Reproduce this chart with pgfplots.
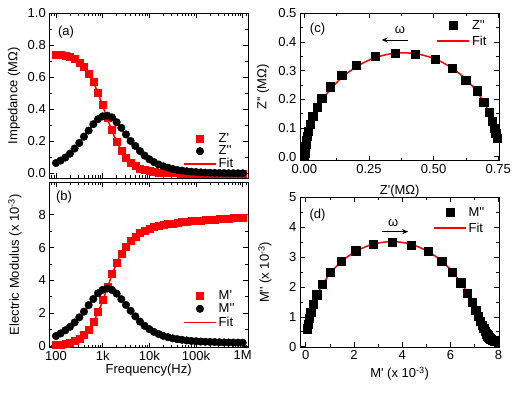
\documentclass[border=0pt]{standalone}
\usepackage{fontspec}
\setmainfont{Liberation Sans}
\usepackage{pgfplots}
\pgfplotsset{compat=1.18}
\usepackage{pgfplotstable}
\usetikzlibrary{arrows.meta}

\newcommand{\pr}{\textquotesingle}
\newcommand{\fs}{\fontsize{13}{15}\selectfont}

% measured spectra: f (Hz), Z' and Z'' (MOhm), M' and M'' (x 10^-3)
\pgfplotstableread{
f Zr Zi Mr Mi
100 0.7445 0.0655 0.05 0.60
125.9 0.7402 0.0810 0.09 0.76
158.5 0.7360 0.0995 0.13 0.95
199.5 0.7262 0.1240 0.20 1.16
251.2 0.7150 0.1560 0.30 1.43
316.2 0.6935 0.1905 0.45 1.74
398.1 0.6675 0.2300 0.68 2.09
501.2 0.6240 0.2680 1.01 2.49
631.0 0.5710 0.3080 1.47 2.86
794.3 0.5060 0.3390 2.07 3.21
1000 0.4300 0.3570 2.80 3.42
1259 0.3500 0.3610 3.60 3.50
1585 0.2730 0.3500 4.38 3.41
1995 0.2000 0.3200 5.08 3.19
2512 0.1440 0.2850 5.64 2.85
3162 0.0990 0.2440 6.08 2.50
3981 0.0670 0.2030 6.43 2.14
5012 0.0480 0.1720 6.69 1.80
6310 0.0320 0.1400 6.90 1.48
7943 0.0225 0.1120 7.05 1.22
10000 0.0155 0.0890 7.17 1.02
12589 0.0110 0.0710 7.25 0.85
15849 0.0078 0.0560 7.32 0.72
19953 0.0055 0.0450 7.38 0.61
25119 0.0040 0.0360 7.43 0.53
31623 0.0030 0.0280 7.47 0.46
39811 0.0022 0.0220 7.51 0.41
50119 0.0016 0.0180 7.55 0.37
63096 0.0012 0.0140 7.58 0.33
79433 0.0009 0.0110 7.61 0.30
100000 0.0007 0.0090 7.64 0.28
125893 0.0005 0.0070 7.66 0.26
158489 0.0004 0.0055 7.69 0.25
199526 0.0003 0.0045 7.71 0.24
251189 0.0003 0.0035 7.73 0.23
316228 0.0002 0.0030 7.75 0.22
398107 0.0002 0.0025 7.77 0.21
501187 0.0001 0.0020 7.79 0.205
630957 0.0001 0.0016 7.81 0.20
794328 0.0001 0.0013 7.83 0.195
1000000 0.0001 0.0010 7.85 0.19
}\meas

% fitted model evaluated at the same frequencies
\pgfplotstableread{
f Zr Zi Mr Mi
100 0.7441 0.0641 0.054 0.587
125.9 0.7407 0.0803 0.081 0.728
158.5 0.7353 0.1004 0.124 0.903
199.5 0.7270 0.1250 0.190 1.116
251.2 0.7142 0.1546 0.288 1.375
316.2 0.6948 0.1893 0.438 1.682
398.1 0.6662 0.2284 0.661 2.035
501.2 0.6253 0.2700 0.988 2.427
631.0 0.5698 0.3097 1.441 2.824
794.3 0.5030 0.3419 2.033 3.174
1000 0.4240 0.3601 2.748 3.422
1259 0.3430 0.3601 3.540 3.520
1585 0.2660 0.3430 4.332 3.437
1995 0.2002 0.3130 5.047 3.199
2512 0.1447 0.2760 5.644 2.864
3162 0.1009 0.2350 6.112 2.482
3981 0.0682 0.1960 6.464 2.105
5012 0.0478 0.1620 6.724 1.762
6310 0.0330 0.1320 6.922 1.465
7943 0.0227 0.1060 7.069 1.216
10000 0.0153 0.0850 7.181 1.013
12589 0.0109 0.0680 7.261 0.848
15849 0.0077 0.0540 7.326 0.717
19953 0.0054 0.0430 7.382 0.607
25119 0.0040 0.0340 7.422 0.525
31623 0.0029 0.0270 7.459 0.460
39811 0.0021 0.0215 7.493 0.405
50119 0.0016 0.0170 7.526 0.361
63096 0.0012 0.0135 7.557 0.326
79433 0.0009 0.0107 7.588 0.298
100000 0.0007 0.0085 7.619 0.276
125893 0.0005 0.0068 7.644 0.258
158489 0.0004 0.0054 7.670 0.244
199526 0.0003 0.0043 7.695 0.232
251189 0.0003 0.0034 7.720 0.222
316228 0.0002 0.0027 7.740 0.214
398107 0.0002 0.0021 7.760 0.208
501187 0.0001 0.0017 7.780 0.202
630957 0.0001 0.0013 7.800 0.198
794328 0.0001 0.0010 7.820 0.194
1000000 0.0001 0.0008 7.840 0.191
}\fit

\pgfplotsset{
  panel/.style={
    scale only axis,
    tick align=inside,
    major tick length=5pt, minor tick length=3pt,
    axis line style={line width=0.8pt},
    every tick/.append style={line width=0.6pt, black},
    tick label style={font=\fs},
    label style={font=\fs},
    /pgf/number format/assume math mode=true,
    legend style={draw=none, fill=none, font=\fs, anchor=north west,
      inner sep=0pt, row sep=-1pt},
    legend cell align=left,
  },
  redsq/.style={only marks, mark=square*, mark size=3.5pt, color=red,
    legend image code/.code={\draw[##1] plot coordinates {(16pt,0pt)};}},
  blkci/.style={only marks, mark=*, mark size=3.8pt, color=black,
    legend image code/.code={\draw[##1] plot coordinates {(16pt,0pt)};}},
  blksq/.style={only marks, mark=square*, mark size=4.1pt, color=black,
    legend image code/.code={\draw[##1] plot coordinates {(16pt,0pt)};}},
  fitl/.style={red, line width=1.5pt, mark=none, smooth,
    legend image code/.code={\draw[##1] (0pt,0pt) -- (32pt,0pt);}},
}

\begin{document}
\begin{tikzpicture}
\useasboundingbox (0,0) rectangle (517pt,-418pt);

% (a) impedance spectra
\begin{axis}[panel, xmode=log, at={(49.3pt,-13.3pt)}, anchor=north west,
  width=198.7pt, height=165pt,
  xmin=72, xmax=1.3e6,
  xtick={1e2,1e3,1e4,1e5,1e6},
  minor xtick={80,90,200,300,400,500,600,700,800,900,
    2000,3000,4000,5000,6000,7000,8000,9000,
    20000,30000,40000,50000,60000,70000,80000,90000,
    200000,300000,400000,500000,600000,700000,800000,900000,1200000},
  ymin=-0.03, ymax=1.0, ytick={0,0.2,0.4,0.6,0.8,1.0}, minor y tick num=1,
  xticklabels={},
  yticklabel style={/pgf/number format/.cd, fixed, fixed zerofill, precision=1},
  ylabel={Impedance (MΩ)},
  ylabel style={at={(axis description cs:-0.178,0.5)}, anchor=center},
  legend style={at={(axis description cs:0.673,0.285)}, row sep=-2pt}]
\addplot[redsq] table[x=f, y=Zr] {\meas};
\addlegendentry{Z\pr}
\addplot[blkci] table[x=f, y=Zi] {\meas};
\addlegendentry{Z\pr\pr}
\addplot[fitl] table[x=f, y=Zr] {\fit};
\addlegendentry{Fit}
\addplot[fitl, forget plot] table[x=f, y=Zi] {\fit};
\node[font=\fs] at (axis description cs:0.084,0.887) {(a)};
\end{axis}

% (b) electric modulus spectra
\begin{axis}[panel, xmode=log, at={(49.3pt,-182pt)}, anchor=north west,
  width=198.7pt, height=165.5pt,
  xmin=72, xmax=1.3e6,
  xtick={1e2,1e3,1e4,1e5,1e6},
  minor xtick={80,90,200,300,400,500,600,700,800,900,
    2000,3000,4000,5000,6000,7000,8000,9000,
    20000,30000,40000,50000,60000,70000,80000,90000,
    200000,300000,400000,500000,600000,700000,800000,900000,1200000},
  ymin=-0.1, ymax=10, ytick={0,2,4,6,8}, minor y tick num=1,
  xticklabels={100,1k,10k,100k,1M},
  xlabel={Frequency(Hz)},
  xlabel style={at={(axis description cs:0.5,-0.136)}, anchor=center},
  ylabel={Electric Modulus (x 10\textsuperscript{-3})},
  ylabel style={at={(axis description cs:-0.173,0.5)}, anchor=center},
  legend style={at={(axis description cs:0.673,0.36)}}]
\addplot[redsq] table[x=f, y=Mr] {\meas};
\addlegendentry{M\pr}
\addplot[blkci] table[x=f, y=Mi] {\meas};
\addlegendentry{M\pr\pr}
\addplot[fitl] table[x=f, y=Mr] {\fit};
\addlegendentry{Fit}
\addplot[fitl, forget plot] table[x=f, y=Mi] {\fit};
\node[font=\fs] at (axis description cs:0.074,0.909) {(b)};
\end{axis}

% (c) Nyquist plot of the impedance
\begin{axis}[panel, at={(300pt,-13.3pt)}, anchor=north west,
  width=199.3pt, height=147.4pt,
  xmin=-0.017, xmax=0.754, ymin=-0.014, ymax=0.5,
  xtick={0,0.25,0.5,0.75}, ytick={0,0.1,0.2,0.3,0.4,0.5},
  minor x tick num=1, minor y tick num=1,
  xticklabel style={/pgf/number format/.cd, fixed, fixed zerofill, precision=2},
  yticklabel style={/pgf/number format/.cd, fixed, fixed zerofill, precision=1},
  xlabel={Z\pr(MΩ)},
  xlabel style={at={(axis description cs:0.5,-0.206)}, anchor=center},
  ylabel={Z\pr\pr\ (MΩ)},
  ylabel style={at={(axis description cs:-0.186,0.5)}, anchor=center},
  legend style={at={(axis description cs:0.684,0.968)}, row sep=1pt}]
\addplot[blksq] table[x=Zr, y=Zi] {\meas};
\addlegendentry{Z\pr\pr}
\addplot[fitl] table[x=Zr, y=Zi] {\fit};
\addlegendentry{Fit}
\node[font=\fs] at (axis description cs:0.088,0.893) {(c)};
\node[font=\fs] at (axis description cs:0.502,0.886) {ω};
\draw[-{Stealth[length=6pt,width=5pt]}, line width=0.9pt]
  (axis description cs:0.542,0.819) -- (axis description cs:0.41,0.819);
\end{axis}

% (d) modulus plane plot
\begin{axis}[panel, at={(300pt,-197.3pt)}, anchor=north west,
  width=199.3pt, height=150pt,
  xmin=-0.24, xmax=8.03, ymin=-0.02, ymax=5,
  xtick={0,2,4,6,8}, ytick={0,1,2,3,4,5},
  minor x tick num=1, minor y tick num=1,
  xlabel={M\pr\ (x 10\textsuperscript{-3})},
  xlabel style={at={(axis description cs:0.5,-0.175)}, anchor=center},
  ylabel={M\pr\pr\ (x 10\textsuperscript{-3})},
  ylabel style={at={(axis description cs:-0.176,0.5)}, anchor=center},
  legend style={at={(axis description cs:0.667,0.949)}, row sep=1pt}]
\addplot[blksq] table[x=Mr, y=Mi] {\meas};
\addlegendentry{M\pr\pr}
\addplot[fitl] table[x=Mr, y=Mi] {\fit};
\addlegendentry{Fit}
\node[font=\fs] at (axis description cs:0.088,0.882) {(d)};
\node[font=\fs] at (axis description cs:0.468,0.831) {ω};
\draw[-{Stealth[length=6pt,width=5pt]}, line width=0.9pt]
  (axis description cs:0.41,0.771) -- (axis description cs:0.543,0.771);
\end{axis}
\end{tikzpicture}
\end{document}
